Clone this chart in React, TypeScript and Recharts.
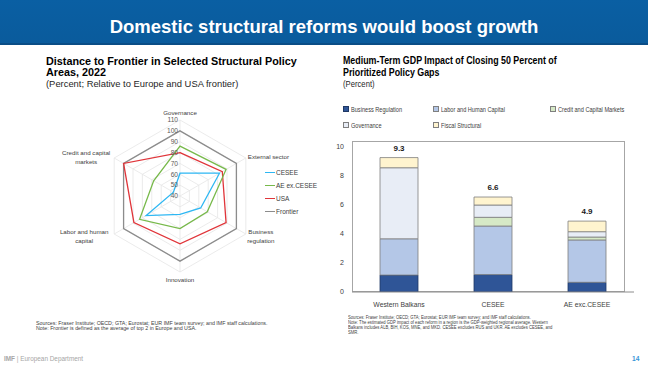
import React from 'react';
import {
  RadarChart, Radar, PolarGrid, PolarAngleAxis, PolarRadiusAxis,
  BarChart, Bar, XAxis, YAxis, LabelList, Legend,
} from 'recharts';

// ---------- DATA ----------
const radarAxes = ['Governance', 'External sector', 'Business regulation', 'Innovation', 'Labor and human capital', 'Credit and capital markets'];
const ceseeScores = [61, 82, 62, 57, 76, 47];
const aeExCeseeScores = [86, 89, 69, 70, 83, 68];
const usaScores = [80, 85, 89, 84, 89, 100];
const frontierScores = [100, 100, 100, 100, 100, 100];
const radarTicks = [40, 50, 60, 70, 80, 90, 100, 110];
const radarLegendOrder = ['CESEE', 'AE ex.CESEE', 'USA', 'Frontier'];

const regions = ['Western Balkans', 'CESEE', 'AE exc.CESEE'];
const businessRegulation = [1.17, 1.2, 0.67];
const laborHumanCapital = [2.5, 3.35, 2.92];
const creditCapitalMarkets = [0, 0.6, 0.2];
const governance = [4.9, 0.85, 0.37];
const fiscalStructural = [0.7, 0.55, 0.73];
const totals = [9.3, 6.6, 4.9];
const barTicks = [0, 2, 4, 6, 8, 10];

// ---------- TABLES ----------
const radarData = radarAxes.map((axis, i) => ({
  axis,
  cesee: ceseeScores[i],
  ae: aeExCeseeScores[i],
  usa: usaScores[i],
  frontier: frontierScores[i],
}));

const barData = regions.map((region, i) => ({
  region,
  br: businessRegulation[i],
  labor: laborHumanCapital[i],
  credit: creditCapitalMarkets[i],
  gov: governance[i],
  fiscal: fiscalStructural[i],
  total: totals[i],
}));

const FONT = '"Liberation Sans", Arial, sans-serif';

// baseline-positioned text helper
function Txt(props: any) {
  const { x, baseline, size, lh, children, style, scaleX } = props;
  const lineH = lh ?? size * 1.15;
  const top = baseline - (lineH - 1.117 * size) / 2 - 0.905 * size;
  return (
    <div
      style={{
        position: 'absolute', left: x, top, fontFamily: FONT, fontSize: size,
        lineHeight: `${lineH}px`, whiteSpace: 'nowrap', color: '#262626',
        transform: scaleX ? `scaleX(${scaleX})` : undefined, transformOrigin: 'left top',
        ...style,
      }}
    >
      {children}
    </div>
  );
}

// ---------- RADAR ----------
const RCX = 150, RCY = 96, RR = 76;
const angleLabelLayout: Record<string, { lines: string[]; dx: number; dy: number; anchor: string }> = {
  'Governance': { lines: ['Governance'], dx: 0, dy: -5, anchor: 'middle' },
  'External sector': { lines: ['External sector'], dx: 2, dy: 1, anchor: 'start' },
  'Business regulation': { lines: ['Business', 'regulation'], dx: 15, dy: 0, anchor: 'middle' },
  'Innovation': { lines: ['Innovation'], dx: 0, dy: 10, anchor: 'middle' },
  'Labor and human capital': { lines: ['Labor and human', 'capital'], dx: -30, dy: 0, anchor: 'middle' },
  'Credit and capital markets': { lines: ['Credit and capital', 'markets'], dx: -28, dy: -3, anchor: 'middle' },
};

function AngleTick(props: any) {
  const { payload } = props;
  const a = (payload.coordinate * Math.PI) / 180;
  const vx = RCX + RR * Math.cos(a);
  const vy = RCY - RR * Math.sin(a);
  const cfg = angleLabelLayout[payload.value];
  const x = vx + cfg.dx;
  const y = vy + cfg.dy;
  return (
    <text x={x} y={y} textAnchor={cfg.anchor as any} fontSize={6.2} fill="#404040" fontFamily={FONT}>
      {cfg.lines.map((l, i) => (
        <tspan key={i} x={x} dy={i === 0 ? 0 : 8.6}>{l}</tspan>
      ))}
    </text>
  );
}

function RadiusTick(props: any) {
  const { x, y, payload } = props;
  return (
    <text x={x - 2} y={y + 2.3} textAnchor="end" fontSize={6.6} fill="#595959" fontFamily={FONT}>
      {payload.value}
    </text>
  );
}

function RadarLegend(props: any) {
  const items = [...(props.payload || [])].sort(
    (a: any, b: any) => radarLegendOrder.indexOf(a.value) - radarLegendOrder.indexOf(b.value),
  );
  return (
    <div style={{ fontFamily: FONT }}>
      {items.map((it: any) => (
        <div key={it.value} style={{ display: 'flex', alignItems: 'center', height: 13 }}>
          <div style={{ width: 10, height: 1.4, background: it.color, marginRight: 1 }} />
          <span style={{ fontSize: 6.5, color: '#404040', lineHeight: '13px' }}>{it.value}</span>
        </div>
      ))}
    </div>
  );
}

// ---------- BAR ----------
const barSeries = [
  { key: 'br', name: 'Business Regulation', fill: '#2f5597', stroke: '#1f3864' },
  { key: 'labor', name: 'Labor and Human Capital', fill: '#b4c7e7', stroke: '#7f7f7f' },
  { key: 'credit', name: 'Credit and Capital Markets', fill: '#d6e9c6', stroke: '#7f7f7f' },
  { key: 'gov', name: 'Governance', fill: '#e8edf6', stroke: '#7f7f7f' },
  { key: 'fiscal', name: 'Fiscal Structural', fill: '#fff4cf', stroke: '#7f7f7f' },
];
const legendPos: Record<string, [number, number]> = {
  br: [0, 0], labor: [90, 0], credit: [207, 0], gov: [0, 16], fiscal: [90, 16],
};

function BarLegend(props: any) {
  const items = props.payload || [];
  return (
    <div style={{ position: 'relative', width: 300, height: 30, fontFamily: FONT }}>
      {items.map((it: any) => {
        const s = barSeries.find((b) => b.name === it.value)!;
        const [lx, ly] = legendPos[s.key];
        return (
          <div key={it.value} style={{ position: 'absolute', left: lx, top: ly, display: 'flex', alignItems: 'center', height: 8 }}>
            <div style={{ width: 4, height: 4, background: s.fill, border: `0.8px solid ${s.key === 'br' ? '#1f3864' : '#7f7f7f'}`, marginRight: 2 }} />
            <span style={{ fontSize: 6.6, color: '#404040', transform: 'scaleX(0.85)', transformOrigin: 'left center', display: 'inline-block' }}>{it.value}</span>
          </div>
        );
      })}
    </div>
  );
}

function TotalLabel(props: any) {
  const { x, y, width, value } = props;
  return (
    <text x={x + width / 2} y={y - 7} textAnchor="middle" fontSize={8} fontWeight="bold" fill="#1a1a1a" fontFamily={FONT}>
      {Number(value).toFixed(1)}
    </text>
  );
}

export default function App() {
  return (
    <div style={{ position: 'absolute', left: 0, top: 0, width: 648, height: 365, background: '#ffffff', overflow: 'hidden', fontFamily: FONT }}>
      {/* header */}
      <div style={{ position: 'absolute', left: 0, top: 0, width: 648, height: 44, background: 'linear-gradient(180deg, #0a5fa3 0%, #0a5b9c 100%)' }} />
      <div style={{ position: 'absolute', left: 0, top: 43, width: 648, height: 2, background: '#0a4d86' }} />
      <Txt x={0} baseline={33} size={18.5} style={{ width: 648, textAlign: 'center', color: '#ffffff', fontWeight: 'bold' }}>
        Domestic structural reforms would boost growth
      </Txt>

      {/* left titles */}
      <Txt x={46} baseline={65} size={10.8} lh={11} style={{ fontWeight: 'bold', color: '#000' }}>
        Distance to Frontier in Selected Structural Policy
      </Txt>
      <Txt x={46} baseline={76} size={10.8} lh={11} style={{ fontWeight: 'bold', color: '#000' }}>
        Areas, 2022
      </Txt>
      <Txt x={46} baseline={87.3} size={9.4} style={{ color: '#262626' }}>
        (Percent; Relative to Europe and USA frontier)
      </Txt>

      {/* radar chart */}
      <div style={{ position: 'absolute', left: 30, top: 100 }}>
        <RadarChart width={290} height={200} data={radarData} cx={RCX} cy={RCY} outerRadius={RR} startAngle={90} endAngle={-270}>
          <PolarGrid gridType="polygon" stroke="#e6e6e6" strokeWidth={0.8} />
          <PolarAngleAxis dataKey="axis" tick={<AngleTick />} tickLine={false} axisLine={false} />
          <PolarRadiusAxis angle={90} domain={[40, 110]} ticks={radarTicks as any} tick={<RadiusTick />} axisLine={false} tickLine={false} />
          <Radar name="Frontier" dataKey="frontier" stroke="#8c8c8c" strokeWidth={1.3} fill="none" fillOpacity={0} dot={false} isAnimationActive={false} />
          <Radar name="USA" dataKey="usa" stroke="#e0353a" strokeWidth={1.3} fill="none" fillOpacity={0} dot={false} isAnimationActive={false} />
          <Radar name="AE ex.CESEE" dataKey="ae" stroke="#77b94a" strokeWidth={1.3} fill="none" fillOpacity={0} dot={false} isAnimationActive={false} />
          <Radar name="CESEE" dataKey="cesee" stroke="#2db7f3" strokeWidth={1.3} fill="none" fillOpacity={0} dot={false} isAnimationActive={false} />
          <Legend layout="horizontal" verticalAlign="middle" align="center" content={<RadarLegend />} wrapperStyle={{ left: 235, top: 66, width: 60 }} />
        </RadarChart>
      </div>

      {/* left notes */}
      <Txt x={36} baseline={324.4} size={5.3} style={{ color: '#404040' }}>
        Sources: Fraser Institute; OECD; GTA; Eurostat; EUR IMF team survey; and IMF staff calculations.
      </Txt>
      <Txt x={36} baseline={330.3} size={5.3} style={{ color: '#404040' }}>
        Note: Frontier is defined as the average of top 2 in Europe and USA.
      </Txt>

      {/* right titles */}
      <Txt x={343} baseline={64} size={10.8} lh={11} scaleX={0.82} style={{ fontWeight: 'bold', color: '#000' }}>
        Medium-Term GDP Impact of Closing 50 Percent of
      </Txt>
      <Txt x={343} baseline={76} size={10.8} lh={11} scaleX={0.82} style={{ fontWeight: 'bold', color: '#000' }}>
        Prioritized Policy Gaps
      </Txt>
      <Txt x={343} baseline={87.7} size={9.4} scaleX={0.82} style={{ color: '#262626' }}>
        (Percent)
      </Txt>

      {/* bar chart frame */}
      <div style={{ position: 'absolute', left: 352, top: 141, width: 273, height: 151, border: '1px solid #a6a6a6', boxSizing: 'border-box' }} />

      {/* bar chart */}
      <div style={{ position: 'absolute', left: 320, top: 100 }}>
        <BarChart width={328} height={220} data={barData} margin={{ top: 47, right: 14, bottom: 8, left: 0 }} barSize={38}>
          <XAxis dataKey="region" tickLine={false} axisLine={{ stroke: '#8c8c8c' }} tick={{ fontSize: 6.8, fill: '#404040', fontFamily: FONT }} height={20} tickMargin={4} interval={0} />
          <YAxis type="number" domain={[0, 10]} ticks={barTicks} tickLine={false} axisLine={false} width={32} tick={{ fontSize: 7, fill: '#404040', fontFamily: FONT }} allowDataOverflow />
          {barSeries.map((s) => (
            <Bar key={s.key} dataKey={s.key} name={s.name} stackId="a" fill={s.fill} stroke={s.stroke} strokeWidth={0.8} isAnimationActive={false}>
              {s.key === 'fiscal' ? <LabelList dataKey="total" content={<TotalLabel />} /> : null}
            </Bar>
          ))}
          <Legend layout="horizontal" verticalAlign="middle" align="center" content={<BarLegend />} wrapperStyle={{ left: 23, top: 5, width: 300 }} />
        </BarChart>
      </div>

      {/* right notes */}
      <div style={{ position: 'absolute', left: 348, top: 314.5, fontFamily: FONT, fontSize: 5.3, lineHeight: '5.3px', color: '#404040', whiteSpace: 'nowrap', transform: 'scaleX(0.79)', transformOrigin: 'left top' }}>
        <div>Sources: Fraser Institute; OECD; GTA; Eurostat; EUR IMF team survey; and IMF staff calculations.</div>
        <div>Note: The estimated GDP impact of each reform in a region is the GDP-weighted regional average. Western</div>
        <div>Balkans includes ALB, BIH, KOS, MNE, and MKD. CESEE excludes RUS and UKR. AE excludes CESEE, and</div>
        <div>SMR.</div>
      </div>

      {/* footer */}
      <Txt x={4} baseline={361} size={6.4} style={{ color: '#a6a6a6' }}>
        <b>IMF</b> | European Department
      </Txt>
      <Txt x={632} baseline={361} size={6.6} style={{ color: '#3a96d8', fontWeight: 'bold' }}>
        14
      </Txt>
    </div>
  );
}
